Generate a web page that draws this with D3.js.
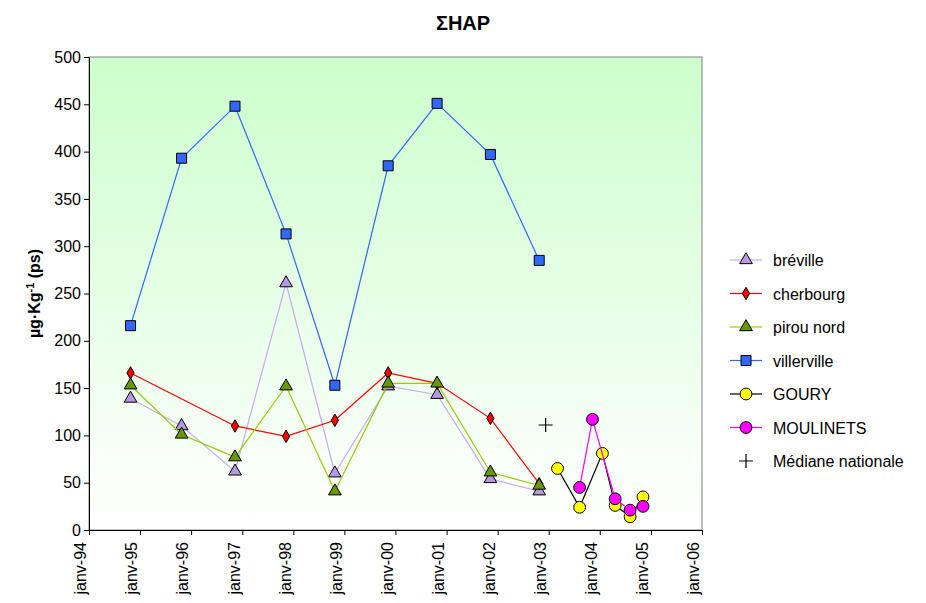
<!DOCTYPE html>
<html><head><meta charset="utf-8">
<script src="https://d3js.org/d3.v7.min.js"></script>
<style>body{margin:0;background:#fff;font-family:Arial,"Liberation Sans",sans-serif}</style>
</head><body><div id="chart"></div>
<script>
const campDates = ["1994-10-25","1995-10-25","1996-11-10","1997-11-10","1998-10-25","1999-11-10","2000-10-25","2001-11-10","2002-10-25"];
const breville = [139,110,62,261,60,152,143,54,41];
const cherbourgDates = ["1994-10-25","1996-11-10","1997-11-10","1998-10-25","1999-11-10","2000-10-25","2001-11-10","2002-10-25"];
const cherbourg = [166,110,99,116,166,155,118,49];
const pirou = [153,101,77,152,41,155,155,61,47];
const villerville = [216,393,448,313,153,385,451,397,285];
const gouryDates = ["2003-03-05","2003-08-10","2004-01-20","2004-04-20","2004-08-05","2004-11-05"];
const goury = [65,24,81,26,14,35];
const moulDates = ["2003-08-10","2003-11-10","2004-04-20","2004-08-05","2004-11-05"];
const moulinets = [45,117,33,21,25];
const medDates = ["2002-12-10"];
const mediane = [111];
const xTicks = d3.range(1994,2007).map(y=>new Date(y,0,1));
const monthFr = ["janv"];

const W=926,H=603, m={l:89,r:224,t:57,b:73};
const svg=d3.select("#chart").append("svg").attr("width",W).attr("height",H);
const x=d3.scaleTime().domain([new Date(1994,0,1),new Date(2006,0,1)]).range([m.l,W-m.r]);
const y=d3.scaleLinear().domain([0,500]).range([H-m.b,m.t]);
const P=d3.timeParse("%Y-%m-%d");

const g=svg.append("defs").append("linearGradient").attr("id","bg").attr("x1",0).attr("x2",0).attr("y1",0).attr("y2",1);
g.append("stop").attr("offset","0").attr("stop-color","#ccffcc");
g.append("stop").attr("offset","1").attr("stop-color","#ffffff");
svg.append("rect").attr("x",m.l).attr("y",m.t).attr("width",W-m.r-m.l).attr("height",H-m.b-m.t)
  .attr("fill","url(#bg)").attr("stroke","#808080");

svg.append("g").attr("transform",`translate(${m.l},0)`)
  .call(d3.axisLeft(y).tickValues(d3.range(0,501,50)).tickSize(5).tickSizeOuter(0))
  .call(a=>a.selectAll("text").attr("font-size",16).attr("fill","#000").attr("font-family","Arial"))
  .call(a=>a.select(".domain").attr("stroke","#000"));
const xa=svg.append("g").attr("transform",`translate(0,${H-m.b})`)
  .call(d3.axisBottom(x).tickValues(xTicks).tickSize(5).tickSizeOuter(0).tickFormat(d=>monthFr[0]+"-"+d3.timeFormat("%y")(d)));
xa.select(".domain").attr("stroke","#000");
xa.selectAll("text").attr("font-size",16).attr("font-family","Arial").attr("fill","#000")
  .attr("transform","rotate(-90)").attr("text-anchor","end").attr("dx","-0.5em").attr("dy","-0.2em").attr("y",0).attr("x",-4);

const series=[
 {name:"bréville",dates:campDates,vals:breville,line:"#c8a8f0",fill:"#b898e0",sym:"tri"},
 {name:"cherbourg",dates:cherbourgDates,vals:cherbourg,line:"#ff0000",fill:"#ff0000",sym:"dia"},
 {name:"pirou nord",dates:campDates,vals:pirou,line:"#99cc00",fill:"#669900",sym:"tri"},
 {name:"villerville",dates:campDates,vals:villerville,line:"#3366ff",fill:"#3366ff",sym:"sq"},
 {name:"GOURY",dates:gouryDates,vals:goury,line:"#000000",fill:"#ffff00",sym:"circ"},
 {name:"MOULINETS",dates:moulDates,vals:moulinets,line:"#ff00ff",fill:"#ff00ff",sym:"circ"},
 {name:"Médiane nationale",dates:medDates,vals:mediane,line:null,fill:"#000",sym:"plus"}
];
const symT={tri:d3.symbolTriangle,dia:d3.symbolDiamond,sq:d3.symbolSquare,circ:d3.symbolCircle};
const symS={tri:70,dia:45,sq:100,circ:110};
function mark(sel,s){
  if(s.sym==="plus") return sel.append("path").attr("d","M-7,0H7M0,-7V7").attr("stroke","#000").attr("stroke-width",1.2);
  return sel.append("path").attr("d",d3.symbol(symT[s.sym],symS[s.sym])()).attr("fill",s.fill).attr("stroke","#000").attr("stroke-width",1);
}
series.forEach(s=>{
  const pts=s.dates.map((d,i)=>[x(P(d)),y(s.vals[i])]);
  if(s.line) svg.append("path").attr("d",d3.line()(pts)).attr("fill","none").attr("stroke",s.line).attr("stroke-width",1.2);
  pts.forEach(p=>mark(svg.append("g").attr("transform",`translate(${p[0]},${p[1]})`),s));
});

const lg=svg.append("g").attr("transform","translate(730,260)");
series.forEach((s,i)=>{
  const r=lg.append("g").attr("transform",`translate(0,${i*33.5})`);
  if(s.line) r.append("line").attr("x1",0).attr("x2",32).attr("stroke",s.line).attr("stroke-width",1.2);
  mark(r.append("g").attr("transform","translate(16,0)"),s);
  r.append("text").attr("x",43).attr("y",6).attr("font-size",16).text(s.name);
});

svg.append("text").attr("x",463).attr("y",30).attr("text-anchor","middle").attr("font-size",20).attr("font-weight","bold").text("ΣHAP");
const yl=svg.append("text").attr("transform",`translate(40,${(m.t+H-m.b)/2}) rotate(-90)`).attr("text-anchor","middle").attr("font-size",16).attr("font-weight","bold");
yl.append("tspan").text("µg·Kg");
yl.append("tspan").attr("baseline-shift","super").attr("font-size",11).text("-1");
yl.append("tspan").text(" (ps)");
</script></body></html>
